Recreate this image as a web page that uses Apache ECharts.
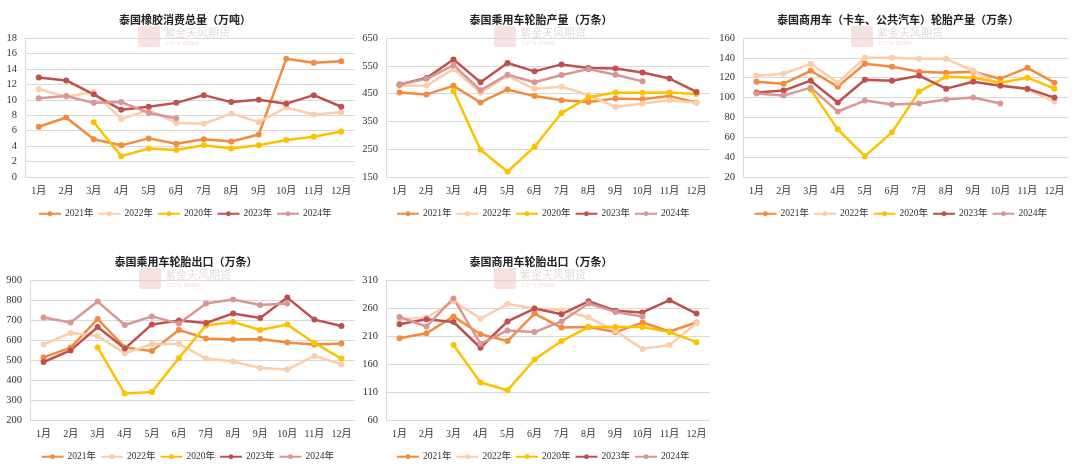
<!DOCTYPE html>
<html>
<head>
<meta charset="utf-8">
<script src="https://cdn.jsdelivr.net/npm/echarts@6/dist/echarts.min.js"></script>
<style>
html, body { margin: 0; padding: 0; background: #fff; }
#main { width: 1080px; height: 469px; }
</style>
</head>
<body>
<div id="main"></div>
<script>
var meses = ['1月', '2月', '3月', '4月', '5月', '6月', '7月', '8月', '9月', '10月', '11月', '12月'];
var nombres = ['2021年', '2022年', '2020年', '2023年', '2024年'];
var colores = ['#F38B3F', '#FBCDAA', '#FFC000', '#C0504D', '#D99694'];

// 泰国橡胶消费总量（万吨）
var consumo2021 = [6.5, 7.7, 4.9, 4.1, 5.0, 4.3, 4.9, 4.6, 5.5, 15.3, 14.8, 15.0];
var consumo2022 = [11.4, 10.4, 11.0, 7.5, 8.7, 7.0, 6.9, 8.2, 7.1, 9.0, 8.1, 8.4];
var consumo2020 = [null, null, 7.1, 2.7, 3.7, 3.5, 4.1, 3.7, 4.1, 4.8, 5.2, 5.9];
var consumo2023 = [12.9, 12.5, 10.7, 8.7, 9.1, 9.6, 10.6, 9.7, 10.0, 9.5, 10.6, 9.1];
var consumo2024 = [10.2, 10.5, 9.6, 9.7, 8.3, 7.6];

// 泰国乘用车轮胎产量（万条）
var pcr2021 = [454, 447, 478, 418, 465, 441, 426, 420, 432, 430, 441, 418];
var pcr2022 = [478, 479, 538, 453, 514, 467, 475, 445, 402, 414, 426, 417];
var pcr2020 = [null, null, 459, 248, 169, 259, 380, 437, 454, 453, 454, 449];
var pcr2023 = [483, 506, 573, 491, 560, 530, 555, 542, 540, 526, 504, 456];
var pcr2024 = [483, 503, 552, 462, 518, 491, 517, 538, 518, 494];

// 泰国商用车（卡车、公共汽车）轮胎产量（万条）
var tbr2021 = [116, 114, 127, 111, 134, 131, 126, 125, 126, 119, 130, 115];
var tbr2022 = [122, 124, 134, 115, 140, 140, 139, 139, 127, 113, 108, 96];
var tbr2020 = [null, null, 108, 68, 41, 65, 106, 121, 120, 115, 120, 109];
var tbr2023 = [105, 107, 117, 95, 118, 117, 122, 109, 116, 112, 109, 100];
var tbr2024 = [104, 102, 110, 86, 97, 93, 94, 98, 100, 94];

// 泰国乘用车轮胎出口（万条）
var pcrExp2021 = [513, 562, 705, 563, 545, 650, 608, 603, 605, 588, 578, 582];
var pcrExp2022 = [578, 635, 620, 533, 580, 580, 507, 492, 460, 452, 520, 478];
var pcrExp2020 = [null, null, 563, 332, 340, 510, 673, 690, 650, 677, 585, 507];
var pcrExp2023 = [490, 548, 665, 557, 678, 698, 685, 733, 710, 812, 702, 670];
var pcrExp2024 = [713, 687, 792, 675, 718, 683, 782, 802, 775, 783];

// 泰国商用车轮胎出口（万条）
var tbrExp2021 = [206, 215, 245, 213, 201, 250, 225, 226, 217, 234, 218, 234];
var tbrExp2022 = [240, 243, 272, 241, 267, 259, 256, 243, 219, 187, 194, 233];
var tbrExp2020 = [null, null, 194, 127, 113, 168, 201, 226, 226, 226, 217, 199];
var tbrExp2023 = [231, 240, 235, 189, 236, 259, 249, 272, 255, 252, 274, 250];
var tbrExp2024 = [244, 227, 277, 196, 220, 217, 236, 268, 253, 245];

var paneles = [
    { titulo: '泰国橡胶消费总量（万吨）', tx: 180, ty: 9, left: 25, top: 38, width: 330, height: 139, min: 0, max: 18, interval: 2,
      datos: [consumo2021, consumo2022, consumo2020, consumo2023, consumo2024] },
    { titulo: '泰国乘用车轮胎产量（万条）', tx: 536, ty: 9, left: 386, top: 38, width: 324, height: 139, min: 150, max: 650, interval: 100,
      datos: [pcr2021, pcr2022, pcr2020, pcr2023, pcr2024] },
    { titulo: '泰国商用车（卡车、公共汽车）轮胎产量（万条）', tx: 893, ty: 9, left: 743, top: 38, width: 325, height: 139, min: 20, max: 160, interval: 20,
      datos: [tbr2021, tbr2022, tbr2020, tbr2023, tbr2024] },
    { titulo: '泰国乘用车轮胎出口（万条）', tx: 181, ty: 251, left: 30, top: 280, width: 325, height: 140, min: 200, max: 900, interval: 100,
      datos: [pcrExp2021, pcrExp2022, pcrExp2020, pcrExp2023, pcrExp2024] },
    { titulo: '泰国商用车轮胎出口（万条）', tx: 536, ty: 251, left: 386, top: 280, width: 324, height: 140, min: 60, max: 310, interval: 50,
      datos: [tbrExp2021, tbrExp2022, tbrExp2020, tbrExp2023, tbrExp2024] }
];

var FUENTE = "'Liberation Serif', 'Noto Sans CJK SC', serif";
var option = { animation: false, title: [], grid: [], xAxis: [], yAxis: [], legend: [], series: [], graphic: [] };

paneles.forEach(function (p, k) {
    option.title.push({
        text: p.titulo, left: p.tx, top: p.ty, textAlign: 'center',
        textStyle: { fontSize: 11, fontWeight: 'bold', color: '#222', fontFamily: "'Noto Sans CJK SC', sans-serif" }
    });
    option.grid.push({ left: p.left, top: p.top, width: p.width, height: p.height });
    option.xAxis.push({
        type: 'category', gridIndex: k, data: meses, boundaryGap: true,
        axisLine: { show: false }, axisTick: { show: false },
        axisLabel: { color: '#333', fontSize: 10, fontFamily: FUENTE, margin: 9 }
    });
    option.yAxis.push({
        type: 'value', gridIndex: k, min: p.min, max: p.max, interval: p.interval,
        axisLine: { show: true, lineStyle: { color: '#d9d9d9' } }, axisTick: { show: false },
        axisLabel: { color: '#333', fontSize: 10.5, fontFamily: FUENTE, margin: 8 },
        splitLine: { lineStyle: { color: '#d9d9d9' } }
    });
    option.legend.push({
        data: nombres, left: p.left + p.width / 2 - 157, top: p.top + p.height + 27, width: 330,
        itemWidth: 22, itemHeight: 6, itemGap: 4,
        textStyle: { fontSize: 9.5, color: '#333', fontFamily: FUENTE, padding: [0, 0, 0, -1] }
    });
    p.datos.forEach(function (serie, i) {
        option.series.push({
            name: nombres[i], type: 'line', xAxisIndex: k, yAxisIndex: k, data: serie,
            symbol: 'circle', symbolSize: 6, connectNulls: false,
            lineStyle: { width: 2.5, color: colores[i] },
            itemStyle: { color: colores[i] }
        });
    });
    // marca de agua
    var wx = p.tx - 42, wy = p.top - 12;
    option.graphic.push({
        type: 'group', left: wx, top: wy, silent: true, children: [
            { type: 'rect', shape: { x: 0, y: 0, width: 22, height: 21, r: 2 }, style: { fill: 'rgba(222,120,120,0.22)' } },
            { type: 'text', style: { x: 26, y: 1, text: '紫金天风期货', fontSize: 11, fill: 'rgba(190,150,150,0.35)', fontFamily: "'Noto Sans CJK SC', sans-serif" } },
            { type: 'text', style: { x: 27, y: 15, text: '立足产业  研究驱动', fontSize: 4, fill: 'rgba(190,150,150,0.35)', fontFamily: "'Noto Sans CJK SC', sans-serif" } }
        ]
    });
});

var grafico = echarts.init(document.getElementById('main'));
grafico.setOption(option);
</script>
</body>
</html>
